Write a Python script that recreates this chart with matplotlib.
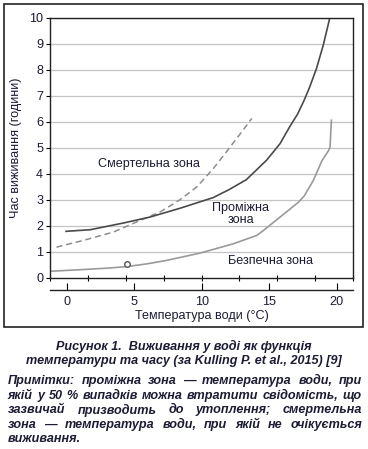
import numpy as np
import matplotlib.pyplot as plt
from matplotlib.patches import Rectangle

# survival boundaries (temperature, hours)
lethal_x = [-0.05, 1.73, 4.2, 6.17, 8.4, 10.85, 12.0, 13.3, 14.8, 15.8, 16.5, 17.1, 17.6, 18.0, 18.5, 19.0, 19.48]
lethal_y = [1.78, 1.84, 2.1, 2.33, 2.67, 3.08, 3.38, 3.77, 4.52, 5.16, 5.8, 6.3, 6.85, 7.35, 8.06, 8.96, 10.0]

dashed_x = [-0.76, 1.23, 3.45, 5.43, 6.9, 8.4, 9.63, 10.86, 12.1, 13.06, 13.7]
dashed_y = [1.17, 1.43, 1.75, 2.2, 2.52, 3.0, 3.49, 4.2, 5.03, 5.68, 6.13]

safe_x = [-1.24, 1, 3, 4.44, 6, 7.4, 9.87, 12.34, 14.07, 14.56, 15.8, 17.16, 17.6, 18.27, 18.9, 19.4, 19.5, 19.6]
safe_y = [0.24, 0.3, 0.36, 0.42, 0.53, 0.66, 0.94, 1.3, 1.62, 1.81, 2.33, 2.9, 3.15, 3.75, 4.5, 4.9, 5.03, 6.06]

point_x = [4.44]
point_y = [0.53]

zones = ["Смертельна зона", "Проміжна\nзона", "Безпечна зона"]
zone_pos = [(6.1, 4.36), (12.9, 2.46), (15.1, 0.63)]

xticks = [0, 5, 10, 15, 20]
yticks = list(range(0, 11))

caption = ["Рисунок 1.  Виживання у воді як функція",
           "температури та часу (за Kulling P. et al., 2015) [9]"]
notes = ["Примітки: проміжна зона — температура води, при",
         "якій у 50 % випадків можна втратити свідомість, що",
         "зазвичай призводить до утоплення; смертельна",
         "зона — температура води, при якій не очікується",
         "виживання."]

plt.rcParams['font.family'] = ['Liberation Sans', 'DejaVu Sans']
ink = '#1c1c34'
W, H = 368, 449
xlim = (-1.24, 21.2)
fs = 9.1

fig = plt.figure(figsize=(W / 100, H / 100), dpi=100)

def fx(px):
    return px / W

def fy(py):
    return 1 - py / H

ax = fig.add_axes([fx(50), fy(277.5), fx(353) - fx(50), fy(18) - fy(277.5)])
ax.set_xlim(*xlim)
ax.set_ylim(0, 10)
for y in yticks[1:]:
    ax.axhline(y, color='#c4c4c4', lw=0.9, zorder=0)
ax.plot(safe_x, safe_y, color='#9a9a9a', lw=1.2)
ax.plot(dashed_x, dashed_y, color='#8c8c8c', lw=1.1, ls=(0, (4, 2.5)))
ax.plot(lethal_x, lethal_y, color='#4a4a4a', lw=1.2)
ax.plot(point_x, point_y, 'o', ms=4, mfc='white', mec='#555555', mew=1)
for txt, (x, y) in zip(zones, zone_pos):
    ax.text(x, y, txt, ha='center', va='center', fontsize=fs, color=ink, linespacing=1.0)
ax.set_yticks(yticks)
ax.set_xticks(np.linspace(xlim[0], xlim[1], 9))
ax.set_xticklabels([])
ax.tick_params(axis='y', length=3, pad=2, labelsize=fs, labelcolor=ink, width=0.8)
ax.tick_params(axis='x', direction='inout', length=5, width=0.8)
for s in ax.spines.values():
    s.set_linewidth(1.0)
    s.set_color('#222222')
ax.set_ylabel("Час виживання (години)", fontsize=fs, color=ink, labelpad=5)

# separate temperature axis underneath
ax2 = fig.add_axes([fx(50), fy(290), fx(353) - fx(50), 0.0001])
ax2.set_xlim(*xlim)
ax2.set_yticks([])
for k in ['left', 'right', 'top']:
    ax2.spines[k].set_visible(False)
ax2.spines['bottom'].set_linewidth(1.0)
ax2.spines['bottom'].set_color('#222222')
ax2.set_xticks(xticks)
ax2.tick_params(axis='x', direction='in', length=5, width=0.8, pad=4, labelsize=fs, labelcolor=ink)
ax2.patch.set_visible(False)
fig.text(fx(201.5), fy(316), "Температура води (°C)", ha='center', va='center', fontsize=fs, color=ink)

fig.patches.append(Rectangle((fx(4), fy(327)), fx(363) - fx(4), fy(4) - fy(327),
                             transform=fig.transFigure, fill=False, ec='#222222', lw=1.2))

# caption and justified notes block
left, right = 8, 362
fig.canvas.draw()
renderer = fig.canvas.get_renderer()
cfs = 10.4
while True:
    probe = fig.text(0, 0, notes[1], fontsize=cfs, fontweight='bold', style='italic')
    wid = probe.get_window_extent(renderer).width
    probe.remove()
    if wid <= right - left - 4:
        break
    cfs -= 0.1

for line, py in zip(caption, [346, 361]):
    fig.text(fx(184), fy(py), line, ha='center', va='center', fontsize=cfs,
             fontweight='bold', style='italic', color=ink)

for i, (line, py) in enumerate(zip(notes, [381, 396, 410, 425, 439])):
    words = line.split(' ')
    objs = [fig.text(0, fy(py), w, ha='left', va='center', fontsize=cfs,
                     fontweight='bold', style='italic', color=ink) for w in words]
    widths = [o.get_window_extent(renderer).width for o in objs]
    if i < len(notes) - 1 and len(words) > 1:
        gap = (right - left - sum(widths)) / (len(words) - 1)
    else:
        gap = 3
    x = left
    for o, w in zip(objs, widths):
        o.set_x(fx(x))
        x += w + gap

fig.savefig("out.png", dpi=100)
